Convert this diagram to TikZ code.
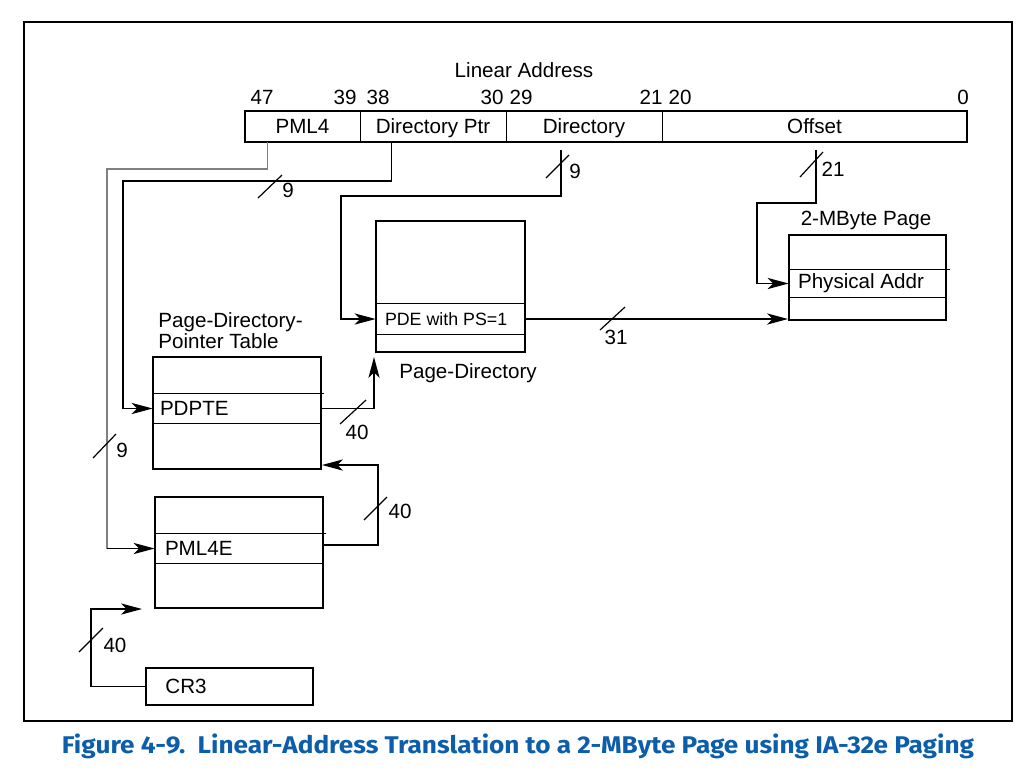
\documentclass[tikz,border=0pt]{standalone}
\usepackage{fontspec}
\setmainfont{Liberation Sans}
\newfontfamily\capfont{Fira Sans}
\usetikzlibrary{arrows.meta}
\definecolor{capblue}{RGB}{12,94,170}
\begin{document}
\begin{tikzpicture}[x=0.5pt,y=-0.5pt,
  every node/.style={font=\fontsize{10.3}{12.4}\selectfont, inner sep=0pt},
  tbl/.style={draw, line width=1pt, inner sep=0pt},
  row/.style={inner sep=0pt, minimum height=14.5pt},
  field/.style={inner sep=0pt, minimum height=15.5pt, text height=7.4pt, text depth=0pt},
  divider/.style={line width=0.6pt},
  wire/.style={line width=0.6pt},
  tip/.style={-{Stealth[length=10.5pt,width=5.6pt,inset=2.8pt,color=black]}},
  feed/.style={wire, tip},
  bus/.style={line width=0.6pt},
  buslbl/.style={anchor=center},
  entry/.style={anchor=west},
  title/.style={anchor=center, text height=7.4pt, text depth=0pt},
  bitno/.style={anchor=center}
]
\useasboundingbox (0,0) rectangle (1026,773);

% outer frame
\draw[line width=1pt] (24,22) rectangle (1012,721);

% ---------- linear address register ----------
\node[title] (latitle) at (524,70) {Linear Address};
\node[tbl, minimum width=361pt, minimum height=15.5pt] (la) at (606,126.5) {};
\node[field, minimum width=57.5pt] (fpml4) at (302.5,126.5) {PML4};
\node[field, minimum width=73pt]   (fdptr) at (433,126.5) {Directory Ptr};
\node[field, minimum width=78pt]   (fdir)  at (584,126.5) {Directory};
\node[field, minimum width=152.5pt] (foff) at (814.5,126.5) {Offset};
\draw[divider] (fpml4.north east) -- (fpml4.south east);
\draw[divider] (fdptr.north east) -- (fdptr.south east);
\draw[divider] (fdir.north east) -- (fdir.south east);

\node[bitno] (b47) at (262,97) {47};
\node[bitno] (b39) at (345,97) {39};
\node[bitno] (b38) at (378,97) {38};
\node[bitno] (b30) at (492,97) {30};
\node[bitno] (b29) at (521,97) {29};
\node[bitno] (b21) at (651,97) {21};
\node[bitno] (b20) at (680,97) {20};
\node[bitno] (b0)  at (963,97) {0};

% ---------- page-directory-pointer table ----------
\node[anchor=west, align=left, font=\fontsize{10.3}{10.4}\selectfont] (pdpttitle) at (158,331) {Page-Directory-\\Pointer Table};
\node[tbl, minimum width=84pt, minimum height=56pt] (pdpt) at (237,413) {};
\node[row, minimum width=84pt] (pdpte) at (237,408.5) {};
\draw[divider] (pdpte.north west) -- ([xshift=1.5pt]pdpte.north east);
\draw[divider] (pdpte.south west) -- (pdpte.south east);
\node[entry] (tpdpte) at ([xshift=3.5pt]pdpte.west) {PDPTE};

% ---------- page directory ----------
\node[tbl, minimum width=74.5pt, minimum height=65.5pt] (pd) at (450.5,286.5) {};
\node[row, minimum width=74.5pt, minimum height=15pt] (pde) at (450.5,319) {};
\draw[divider] (pde.north west) -- (pde.north east);
\draw[divider] (pde.south west) -- (pde.south east);
\node[entry, font=\fontsize{8.9}{10}\selectfont] (tpde) at ([xshift=4.5pt]pde.west) {PDE with PS=1};
\node[title] (pdtitle) at (468,371) {Page-Directory};

% ---------- 2-MByte page ----------
\node[title] (pgtitle) at (866,218) {2-MByte Page};
\node[tbl, minimum width=78.5pt, minimum height=42.5pt] (page) at (867.5,277.5) {};
\node[row, minimum width=78.5pt, minimum height=13.5pt] (phys) at (867.5,283.5) {};
\draw[divider] (phys.north west) -- ([xshift=2pt]phys.north east);
\draw[divider] (phys.south west) -- (phys.south east);
\node[entry] (tphys) at ([xshift=4.5pt]phys.west) {Physical Addr};

% ---------- PML4 table ----------
\node[tbl, minimum width=84pt, minimum height=55.5pt] (pml4) at (239,552.5) {};
\node[row, minimum width=84pt] (pml4e) at (239,548.5) {};
\draw[divider] (pml4e.north west) -- ([xshift=1.5pt]pml4e.north east);
\draw[divider] (pml4e.south west) -- (pml4e.south east);
\node[entry] (tpml4e) at ([xshift=5pt]pml4e.west) {PML4E};

% ---------- CR3 ----------
\node[tbl, minimum width=83.5pt, minimum height=18.5pt] (cr3) at (229.5,686.5) {};
\node[entry] (tcr3) at ([xshift=10pt]cr3.west) {CR3};

% ---------- connectors ----------
% PML4 index: grey run, black final leg into the table
\coordinate (pml4turn) at (107,169);
\coordinate (pml4low) at (107,548.5);
\draw[wire, draw=black!50] (fpml4.south west) ++(23,0) |- (pml4turn) -- (pml4low);
\draw[feed] (pml4low) -- (pml4e.west);

\coordinate (dptrturn) at (123,181);
\draw[feed] (fdptr.south west) ++(32,0) |- (dptrturn) |- (pdpte.west);

\coordinate (dirtop) at (561,150);
\coordinate (dirturn) at (341,196);
\draw[feed] (dirtop) |- (dirturn) |- (pde.west);

\coordinate (offtop) at (816,150);
\coordinate (offturn) at (757,203);
\draw[feed] (offtop) |- (offturn) |- (phys.west);

\draw[feed] (pde.east) -- (pde.east -| page.west);

\coordinate (pdin) at (374,357);
\draw[feed] (pdpte.east) -| (pdin);

\coordinate (pdptturn) at (378,465);
\draw[feed] (pml4e.east) ++(0,-3.5) -| (pdptturn) -- (pdptturn -| pdpt.east);

\coordinate (cr3turn) at (91,609);
\coordinate (pml4in) at (142,609);
\draw[feed] (cr3.west) -| (cr3turn) -- (pml4in);

% ---------- bus-width marks ----------
\draw[bus] (258,198) -- (282,175);  \node[buslbl] (w1) at (288,190) {9};
\draw[bus] (93,458)  -- (116,434);  \node[buslbl] (w2) at (122,450) {9};
\draw[bus] (546,178) -- (569,155);  \node[buslbl] (w3) at (575,171) {9};
\draw[bus] (800,177) -- (823,152);  \node[buslbl] (w4) at (833,169) {21};
\draw[bus] (600,330) -- (625,307);  \node[buslbl] (w5) at (616,337) {31};
\draw[bus] (340,424) -- (366,400);  \node[buslbl] (w6) at (357,432) {40};
\draw[bus] (364,520) -- (387,497);  \node[buslbl] (w7) at (400,511) {40};
\draw[bus] (79,652)  -- (103,628);  \node[buslbl] (w8) at (115,645) {40};

% ---------- caption ----------
\node[text=capblue] (cap) at (518,746)
  {\resizebox{456pt}{9.8pt}{\capfont\bfseries Figure 4-9.\ \ Linear-Address Translation to a 2-MByte Page using IA-32e Paging}};
\end{tikzpicture}
\end{document}
